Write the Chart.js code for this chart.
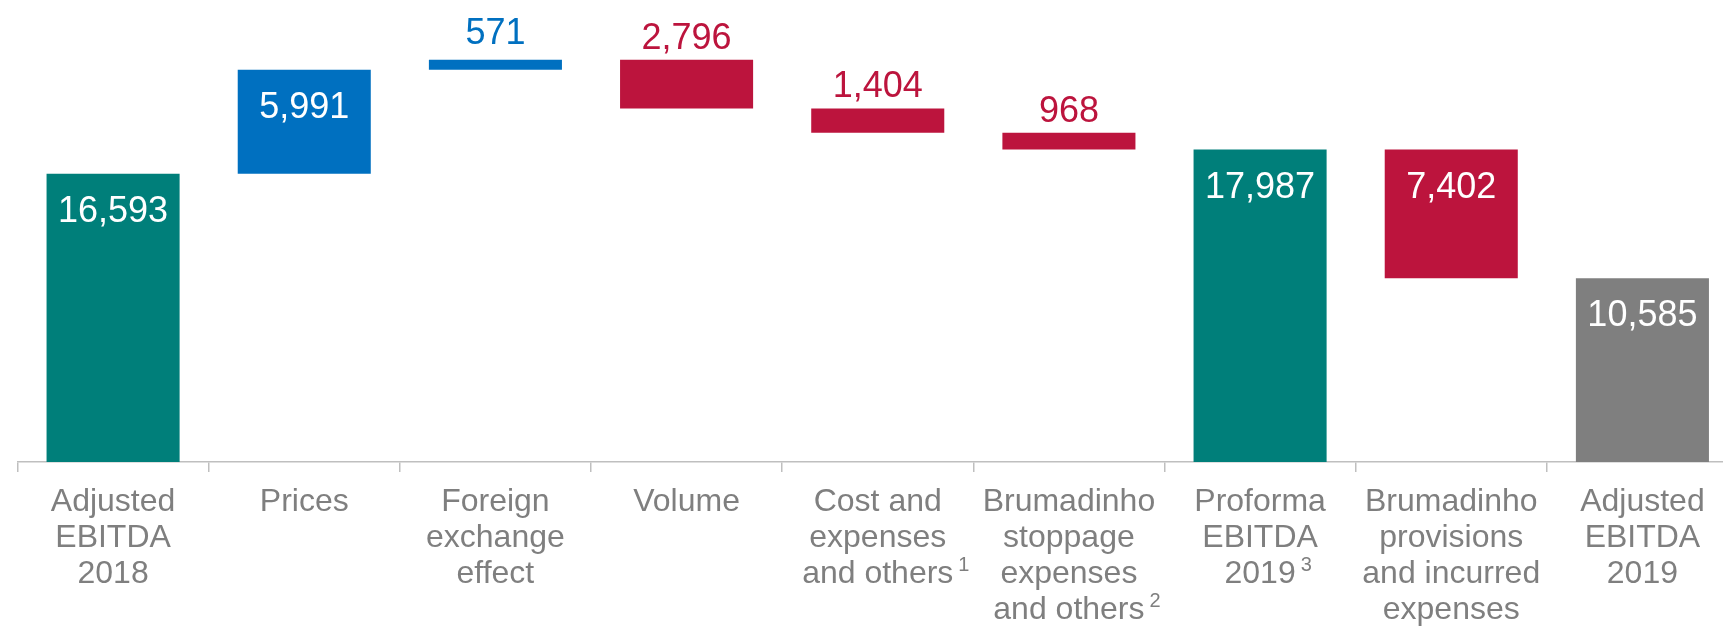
<!DOCTYPE html>
<html>
<head>
<meta charset="utf-8">
<title>EBITDA bridge 2018-2019</title>
<script src="https://cdn.jsdelivr.net/npm/chart.js@4.4.1/dist/chart.umd.min.js"></script>
<style>
    html, body { margin: 0; padding: 0; background: #fff; overflow: hidden; }
    #wrap { width: 1738px; height: 626px; position: relative; }
</style>
</head>
<body>
<div id="wrap"><canvas id="bridge"></canvas></div>
<script>
// Category labels, one array entry per line
const categories = [
    ['Adjusted', 'EBITDA', '2018'],
    ['Prices'],
    ['Foreign', 'exchange', 'effect'],
    ['Volume'],
    ['Cost and', 'expenses', 'and others'],
    ['Brumadinho', 'stoppage', 'expenses', 'and others'],
    ['Proforma', 'EBITDA', '2019'],
    ['Brumadinho', 'provisions', 'and incurred', 'expenses'],
    ['Adjusted', 'EBITDA', '2019']
];
const footnotes = ['', '', '', '', '1', '2', '3', '', ''];

// Amounts (US$ million) and how each step moves the running total
const amounts = [16593, 5991, 571, 2796, 1404, 968, 17987, 7402, 10585];
const kinds = ['total', 'up', 'up', 'down', 'down', 'down', 'total', 'down', 'final'];

const COLORS = {
    total: '#007F7A',
    up: '#0070C0',
    down: '#BC143D',
    final: '#7F7F7F'
};
const FONT = 'Liberation Sans, Arial, sans-serif';
const TICK_LEN = 10;
const TICK_PAD = 12.5;
const LINE_H = 36;

// Build floating [from, to] ranges for the waterfall
const ranges = [];
let level = 0;
amounts.forEach((amt, i) => {
    const kind = kinds[i];
    if (kind === 'total' || kind === 'final') {
        ranges.push([0, amt]);
        level = amt;
    } else if (kind === 'up') {
        ranges.push([level, level + amt]);
        level += amt;
    } else {
        ranges.push([level - amt, level]);
        level -= amt;
    }
});

// Value labels: white inside the tall bars, coloured above the thin ones
const valueLabels = {
    id: 'valueLabels',
    afterDatasetsDraw(chart) {
        const { ctx, scales: { x, y } } = chart;
        ctx.save();
        ctx.font = `36px ${FONT}`;
        ctx.textAlign = 'center';
        ctx.textBaseline = 'alphabetic';
        ranges.forEach((r, i) => {
            const top = y.getPixelForValue(Math.max(r[0], r[1]));
            const bottom = y.getPixelForValue(Math.min(r[0], r[1]));
            const cx = x.getPixelForValue(i);
            const text = amounts[i].toLocaleString('en-US');
            if (bottom - top > 60) {
                ctx.fillStyle = '#FFFFFF';
                ctx.fillText(text, cx, top + 48);
            } else {
                ctx.fillStyle = COLORS[kinds[i]];
                // the thinnest bar gets a little more headroom
                ctx.fillText(text, cx, top - (bottom - top < 15 ? 16 : 11));
            }
        });
        ctx.restore();
    }
};

// Footnote markers hanging after the last line of a category label
const footnoteMarks = {
    id: 'footnoteMarks',
    afterDraw(chart) {
        const { ctx, scales: { x } } = chart;
        ctx.save();
        ctx.fillStyle = '#7F7F7F';
        ctx.textAlign = 'left';
        ctx.textBaseline = 'alphabetic';
        footnotes.forEach((mark, i) => {
            if (!mark) return;
            const lines = categories[i];
            const last = lines[lines.length - 1];
            ctx.font = `32px ${FONT}`;
            const w = ctx.measureText(last).width;
            const mid = x.top + TICK_LEN + TICK_PAD + LINE_H / 2 + (lines.length - 1) * LINE_H;
            ctx.font = `20px ${FONT}`;
            ctx.fillText(mark, x.getPixelForValue(i) + w / 2 + 5, mid - 3.5);
        });
        ctx.restore();
    }
};

const ctx = document.getElementById('bridge').getContext('2d');
new Chart(ctx, {
    type: 'bar',
    data: {
        labels: categories,
        datasets: [{
            data: ranges,
            backgroundColor: kinds.map(k => COLORS[k]),
            borderWidth: 0,
            categoryPercentage: 1,
            barPercentage: 0.696
        }]
    },
    options: {
        responsive: true,
        maintainAspectRatio: false,
        animation: false,
        layout: { padding: { left: 17.5, right: 0, top: 0, bottom: 0 } },
        plugins: {
            legend: { display: false },
            tooltip: { enabled: false }
        },
        scales: {
            x: {
                offset: true,
                afterFit: (scale) => { scale.height = 164; },
                grid: {
                    display: true,
                    drawOnChartArea: false,
                    drawTicks: true,
                    tickLength: TICK_LEN,
                    color: '#BFBFBF',
                    lineWidth: 1.5
                },
                border: { display: true, color: '#BFBFBF', width: 1.5 },
                ticks: {
                    autoSkip: false,
                    maxRotation: 0,
                    minRotation: 0,
                    padding: TICK_PAD,
                    color: '#7F7F7F',
                    font: { family: FONT, size: 32, lineHeight: LINE_H / 32 }
                }
            },
            y: {
                display: false,
                min: 0,
                max: 26600
            }
        }
    },
    plugins: [valueLabels, footnoteMarks]
});
</script>
</body>
</html>
